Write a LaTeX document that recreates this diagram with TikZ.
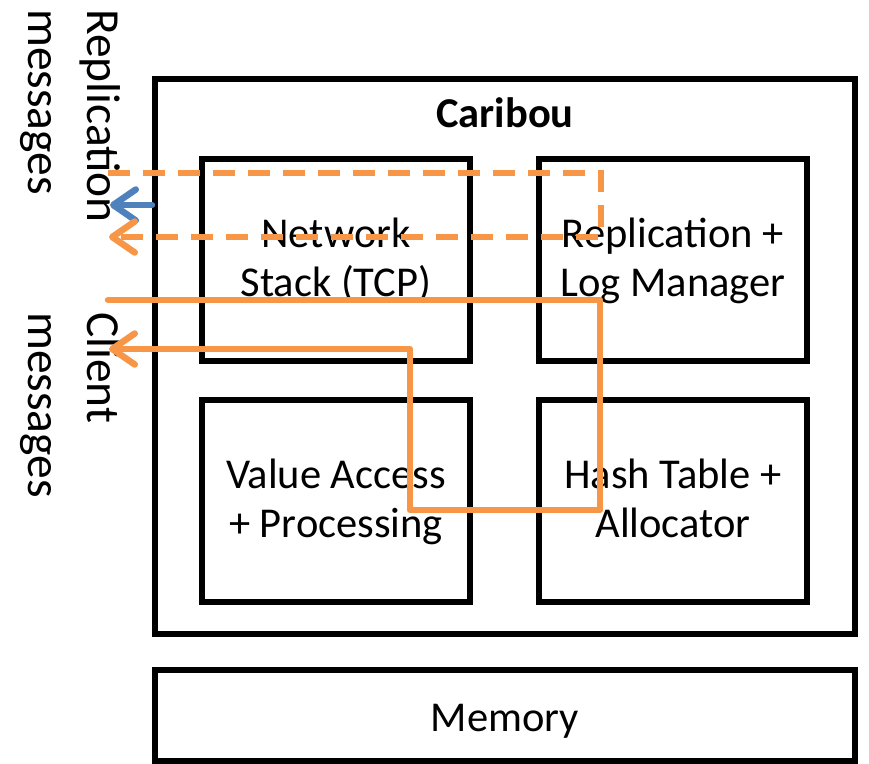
\documentclass[tikz,border=0pt]{standalone}
\usepackage{fontspec}
\setmainfont{Carlito}
\usetikzlibrary{arrows.meta}
\definecolor{flow}{RGB}{247,150,70}
\definecolor{repl}{RGB}{79,129,189}
\tikzstyle{block}=[draw,line width=3.1pt,minimum width=5.36cm,minimum height=4.04cm,align=center,inner sep=0pt,font=\fontsize{24.2}{28}\selectfont,text height=1.48cm,text depth=0cm]
\tikzstyle{frame}=[draw,line width=3.1pt,minimum width=14cm,inner sep=0pt,font=\fontsize{24.2}{28}\selectfont]
\tikzstyle{side}=[rotate=-90,anchor=north west,align=left,inner sep=0pt,font=\fontsize{27}{33.5}\selectfont]
\tikzstyle{flowline}=[line width=3.7pt,line cap=round,-{Straight Barb[round,length=0.45cm,width=0.62cm]}]
\tikzstyle{dashes}=[dash pattern=on 0.44cm off 0.26cm,line cap=butt]

\begin{document}
\begin{tikzpicture}[x=0.02cm,y=-0.02cm]
\useasboundingbox (0,0) rectangle (869,764);
  \node[frame,minimum height=11.1cm] (caribou) at (505,356.5) {};
  \node[font=\fontsize{24.2}{28}\selectfont\bfseries] (title) at (505,113) {Caribou};
  \node[block] (net)  at (336,260) {Network\\Stack (TCP)};
  \node[block] (rep)  at (673,260) {Replication +\\Log Manager};
  \node[block] (val)  at (336,501) {Value Access\\+ Processing};
  \node[block] (hash) at (673,501) {Hash Table +\\Allocator};
  \node[frame,minimum height=1.82cm,text height=0.64cm,text depth=0cm] (mem) at (505,715.5) {Memory};
  \node[side] (repmsg) at (121,9) {Replication\\messages};
  \node[side] (climsg) at (121,312) {Client\\messages};
% replication path
\coordinate (r1) at (108,173);
\coordinate (r2) at (601,173);
\coordinate (r3) at (601,237);
\coordinate (r4) at (109,237);
\coordinate (b1) at (152,205);
\coordinate (b2) at (110,205);
\draw[flowline,repl] (b1) -- (b2);
\draw[flowline,dashes,flow] (r1) -- (r2) -- (r3) -- (r4);
% client path
\coordinate (c1) at (108,300);
\coordinate (c2) at (600,300);
\coordinate (c3) at (600,510);
\coordinate (c4) at (410,510);
\coordinate (c5) at (410,349);
\coordinate (c6) at (109,349);
\draw[flowline,flow,line join=round] (c1) -- (c2) -- (c3) -- (c4) -- (c5) -- (c6);
\end{tikzpicture}
\end{document}
